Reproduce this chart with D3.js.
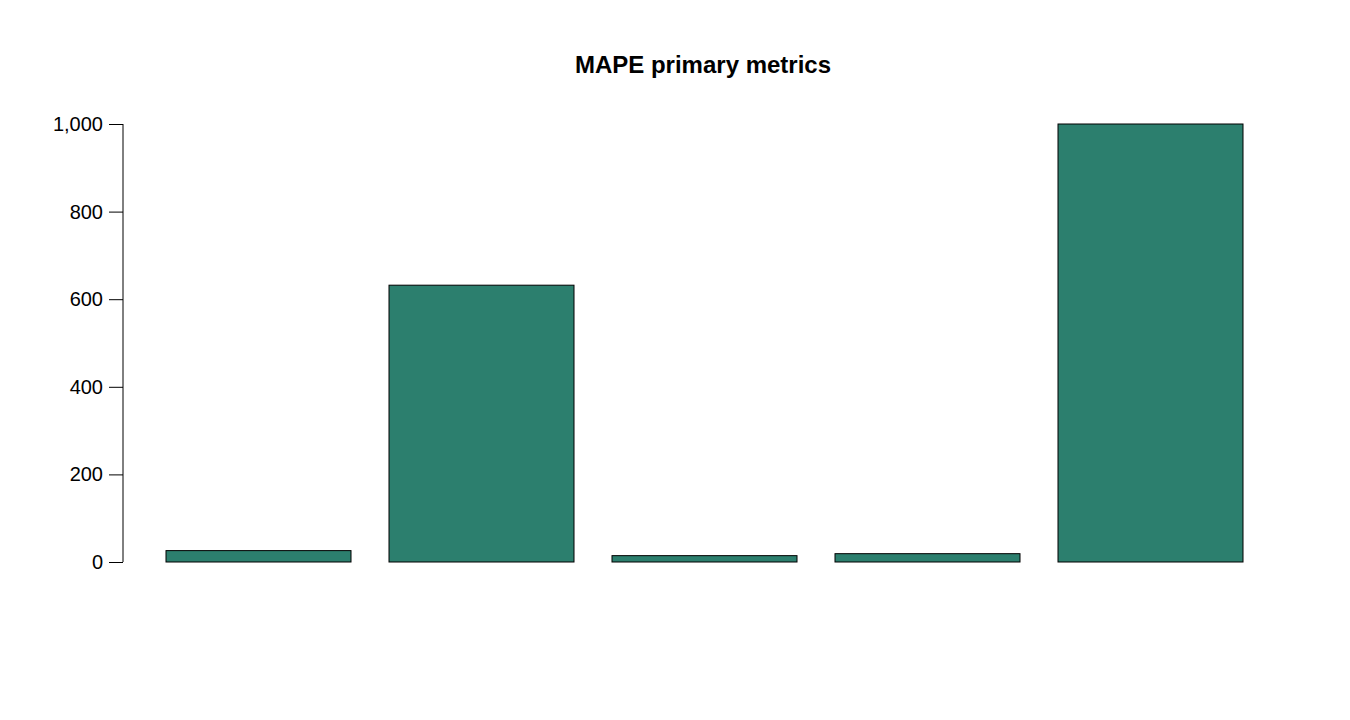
<!DOCTYPE html><html><head><script src="https://d3js.org/d3.v7.min.js"></script>
<style>body{margin:0;background:#fff}</style></head><body><script>
const categories=["A","B","C","D","E"];
const values=[26,632,14.5,19,1000];
const yTicks=[0,200,400,600,800,1000];
const W=1350,H=720;
const svg=d3.select("body").append("svg").attr("width",W).attr("height",H).style("font-family","Liberation Sans, Arial, sans-serif");
const y=d3.scaleLinear().domain([0,1000]).range([562,124]);
const x=d3.scaleBand().domain(categories).range([146.5,1262.5]).paddingInner(38/223).paddingOuter(19.5/223);
svg.selectAll("rect").data(values).join("rect")
 .attr("x",(d,i)=>x(categories[i])).attr("width",x.bandwidth())
 .attr("y",d=>y(d)).attr("height",d=>562-y(d))
 .attr("fill","#2C7F6E").attr("stroke","#000").attr("stroke-width",1);
const ax=svg.append("g").attr("transform","translate(123,0)").call(d3.axisLeft(y).tickValues(yTicks).tickSize(14).tickPadding(6));
ax.select(".domain").attr("d","M0,562V124");
ax.selectAll("text").attr("font-size",20).attr("fill","#000").attr("font-family","Liberation Sans, Arial, sans-serif");
svg.append("text").attr("x",703).attr("y",73).attr("text-anchor","middle").attr("font-size",24).attr("font-weight","bold").text("MAPE primary metrics");
</script></body></html>
